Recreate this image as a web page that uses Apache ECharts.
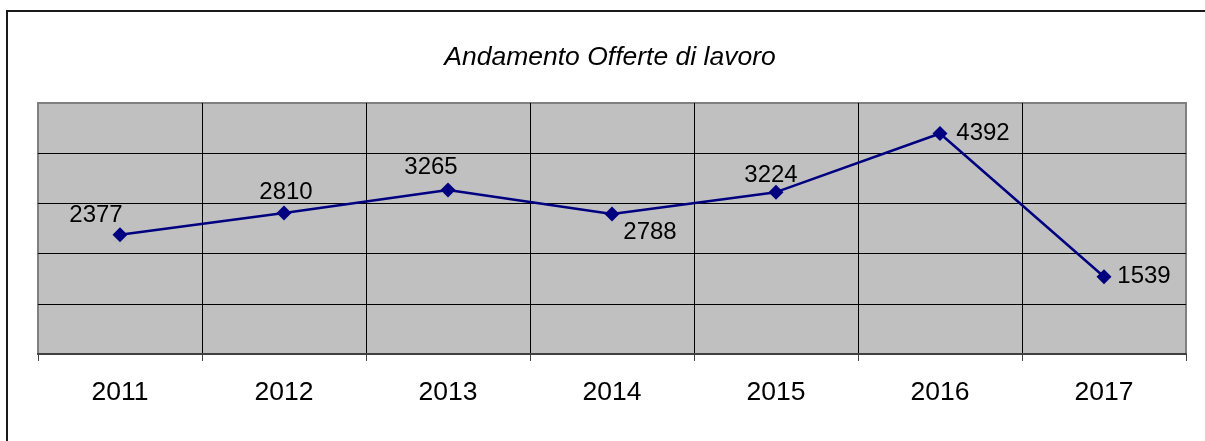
<!DOCTYPE html>
<html>
<head>
<meta charset="utf-8">
<style>
html,body{margin:0;padding:0;background:#fff;}
#chart{width:1205px;height:441px;}
</style>
<script src="https://cdn.jsdelivr.net/npm/echarts@6/dist/echarts.min.js"></script>
</head>
<body>
<div id="chart"></div>
<script>
const titleText = 'Andamento Offerte di lavoro';
const years = ['2011', '2012', '2013', '2014', '2015', '2016', '2017'];
const offers = [2377, 2810, 3265, 2788, 3224, 4392, 1539];
const yTicks = [0, 1000, 2000, 3000, 4000, 5000];

// label placement (style only), per point
const labelOffsets = [[-24, -19], [2, -21], [-17, -23], [38, 18], [-5, -17], [43, 0], [40, 0]];

const chart = echarts.init(document.getElementById('chart'), null, {renderer: 'canvas'});
const FONT = '"Liberation Sans", Arial, sans-serif';

chart.setOption({
  animation: false,
  backgroundColor: '#ffffff',
  title: {
    text: titleText,
    left: 605,
    textAlign: 'center',
    top: 39,
    textStyle: {fontFamily: FONT, fontStyle: 'italic', fontWeight: 'normal', fontSize: 26.5, color: '#000'}
  },
  graphic: [{
    type: 'rect',
    shape: {x: 7, y: 11, width: 1300, height: 600},
    style: {fill: 'none', stroke: '#1a1a1a', lineWidth: 2},
    silent: true,
    z: -10
  }],
  grid: {
    left: 38, right: 19, top: 103, bottom: 87,
    show: true,
    backgroundColor: '#c0c0c0',
    borderColor: '#808080',
    borderWidth: 2
  },
  xAxis: {
    type: 'category',
    data: years,
    boundaryGap: true,
    axisLine: {show: true, lineStyle: {color: '#404040', width: 2}},
    axisTick: {show: true, length: 7, lineStyle: {color: '#404040', width: 1}},
    axisLabel: {fontFamily: FONT, fontSize: 26.5, color: '#000', margin: 25},
    splitLine: {show: true, showMinLine: false, showMaxLine: false, lineStyle: {color: '#000', width: 1}}
  },
  yAxis: {
    type: 'value',
    min: yTicks[0],
    max: yTicks[yTicks.length - 1],
    interval: yTicks[1] - yTicks[0],
    axisLine: {show: false},
    axisTick: {show: false},
    axisLabel: {show: false},
    splitLine: {show: true, showMinLine: false, showMaxLine: false, lineStyle: {color: '#000', width: 1}}
  },
  series: [{
    type: 'line',
    data: offers.map((v, i) => ({
      value: v,
      label: {offset: labelOffsets[i]}
    })),
    symbol: 'diamond',
    symbolSize: 15,
    lineStyle: {color: '#000080', width: 2.5},
    itemStyle: {color: '#000080'},
    label: {
      show: true,
      position: 'inside',
      fontFamily: FONT,
      fontSize: 24,
      color: '#000'
    }
  }]
});
</script>
</body>
</html>
